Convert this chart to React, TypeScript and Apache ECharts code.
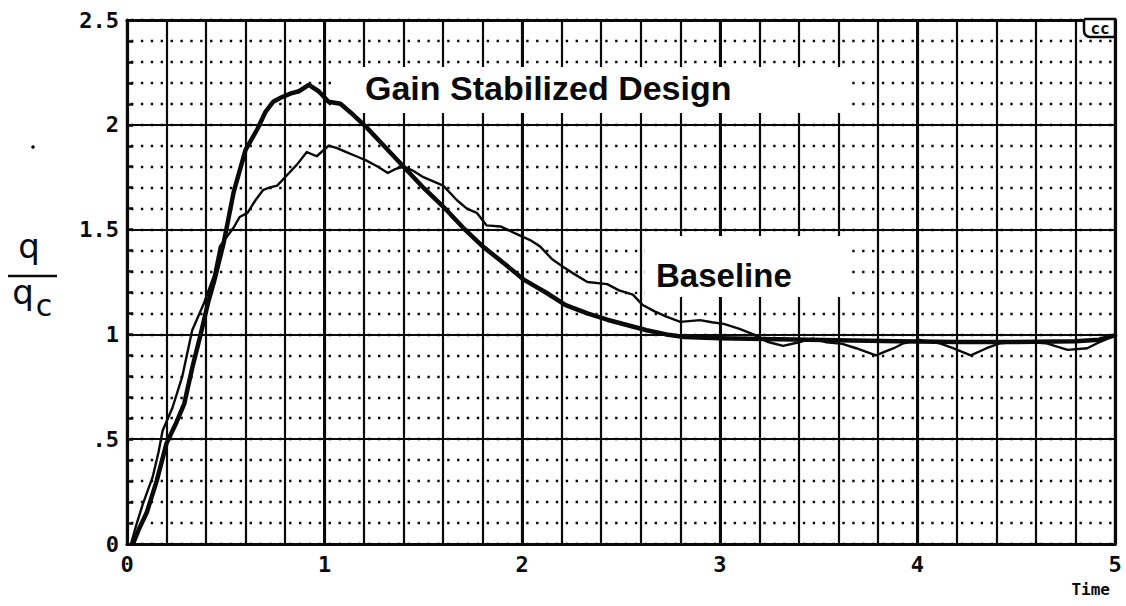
import React, { useEffect, useRef } from "react";
import * as echarts from "echarts";

const xTickValues = [0, 1, 2, 3, 4, 5];
const xTickLabels = ["0", "1", "2", "3", "4", "5"];
const yTickValues = [0, 0.5, 1, 1.5, 2, 2.5];
const yTickLabels = ["0", ".5", "1", "1.5", "2", "2.5"];

const gainStabilizedDesign: [number, number][] = [
  [0.03, 0.0], [0.06, 0.07], [0.1, 0.15], [0.15, 0.3], [0.2, 0.48], [0.25, 0.58],
  [0.29, 0.67], [0.33, 0.84], [0.37, 0.99], [0.41, 1.15], [0.44, 1.25], [0.49, 1.44],
  [0.54, 1.68], [0.6, 1.88], [0.66, 1.98], [0.7, 2.06], [0.74, 2.11], [0.78, 2.13], [0.83, 2.15],
  [0.87, 2.16], [0.92, 2.19], [0.97, 2.16], [1.02, 2.11], [1.08, 2.1], [1.13, 2.06],
  [1.21, 1.99], [1.3, 1.9], [1.4, 1.8], [1.5, 1.7], [1.6, 1.61], [1.7, 1.51],
  [1.8, 1.42], [1.92, 1.33], [2.01, 1.26], [2.12, 1.2], [2.22, 1.14], [2.33, 1.1],
  [2.43, 1.07], [2.53, 1.045], [2.63, 1.02], [2.73, 1.0], [2.82, 0.988], [3.0, 0.982],
  [3.3, 0.977], [3.6, 0.972], [3.9, 0.967], [4.2, 0.964], [4.5, 0.964], [4.8, 0.967],
  [4.92, 0.975], [5.0, 0.995],
];

const baseline: [number, number][] = [
  [0.02, 0.0], [0.05, 0.1], [0.08, 0.19], [0.13, 0.32], [0.16, 0.44], [0.18, 0.54],
  [0.23, 0.65], [0.28, 0.8], [0.33, 1.02], [0.39, 1.15], [0.44, 1.28], [0.47, 1.42],
  [0.54, 1.51], [0.57, 1.56], [0.61, 1.58], [0.65, 1.64], [0.69, 1.69], [0.72, 1.7],
  [0.76, 1.71], [0.82, 1.77], [0.86, 1.81], [0.91, 1.87], [0.96, 1.85], [1.02, 1.9],
  [1.06, 1.89], [1.11, 1.87], [1.16, 1.85], [1.21, 1.83], [1.27, 1.8], [1.32, 1.77],
  [1.36, 1.79], [1.4, 1.8], [1.45, 1.78], [1.5, 1.75], [1.55, 1.73], [1.6, 1.71],
  [1.67, 1.64], [1.72, 1.6], [1.77, 1.58], [1.82, 1.52], [1.89, 1.515], [1.97, 1.48],
  [2.04, 1.45], [2.09, 1.42], [2.15, 1.36], [2.21, 1.32], [2.26, 1.29], [2.33, 1.25],
  [2.43, 1.24], [2.49, 1.21], [2.56, 1.19], [2.61, 1.14], [2.67, 1.11], [2.73, 1.085],
  [2.8, 1.06], [2.9, 1.068], [2.96, 1.058], [3.02, 1.05], [3.1, 1.026], [3.17, 1.0],
  [3.24, 0.965], [3.32, 0.945], [3.39, 0.96], [3.47, 0.98], [3.54, 0.962], [3.62, 0.955],
  [3.69, 0.934], [3.79, 0.9], [3.88, 0.934], [3.93, 0.958], [4.01, 0.974], [4.11, 0.958],
  [4.18, 0.934], [4.27, 0.9], [4.35, 0.934], [4.42, 0.958], [4.52, 0.966], [4.65, 0.958],
  [4.76, 0.926], [4.86, 0.934], [4.91, 0.958], [4.99, 0.99],
];

function labelFor(values: number[], labels: string[], v: number): string {
  for (let i = 0; i < values.length; i++) {
    if (Math.abs(values[i] - v) < 1e-6) return labels[i];
  }
  return "";
}

export default function App() {
  const ref = useRef<HTMLDivElement>(null);

  useEffect(() => {
    document.body.style.margin = "0";
    const chart = echarts.init(ref.current!, null, { renderer: "svg" });
    const ink = "#0a0a0a";
    const tickFont = {
      fontFamily: "'DejaVu Sans Mono', monospace",
      fontWeight: "bold" as const,
      fontSize: 22,
      color: ink,
    };
    const labelFont = "bold 34px 'Liberation Sans', Arial, sans-serif";
    chart.setOption({
      animation: false,
      backgroundColor: "#fff",
      grid: { left: 127, top: 20, right: 11, bottom: 62, containLabel: false },
      xAxis: [
        {
          type: "value", min: 0, max: 5, interval: 0.2, position: "bottom",
          axisLine: { show: true, onZero: false, lineStyle: { color: ink, width: 3.2 } },
          axisTick: { show: false },
          axisLabel: { ...tickFont, margin: 9, formatter: (v: number) => labelFor(xTickValues, xTickLabels, v) },
          splitLine: { show: true, lineStyle: { color: ink, width: 2.2 } },
        },
        {
          type: "value", min: 0, max: 5, interval: 1, position: "top",
          axisLine: { show: true, onZero: false, lineStyle: { color: ink, width: 3.2 } },
          axisTick: { show: false },
          axisLabel: { show: false },
          splitLine: { show: true, lineStyle: { color: ink, width: 3 } },
        },
      ],
      yAxis: [
        {
          type: "value", min: 0, max: 2.5, interval: 0.1, position: "left",
          axisLine: { show: true, onZero: false, lineStyle: { color: ink, width: 3.2 } },
          axisTick: { show: true, inside: true, length: 6, lineStyle: { color: ink, width: 2.5 } },
          axisLabel: { ...tickFont, margin: 8, formatter: (v: number) => labelFor(yTickValues, yTickLabels, v) },
          splitLine: { show: true, lineStyle: { color: ink, width: 2.4, type: [2.4, 7.48], dashOffset: -4 } },
        },
        {
          type: "value", min: 0, max: 2.5, interval: 0.5, position: "right",
          axisLine: { show: true, onZero: false, lineStyle: { color: ink, width: 3.2 } },
          axisTick: { show: false },
          axisLabel: { show: false },
          splitLine: { show: true, lineStyle: { color: ink, width: 2.2 } },
        },
      ],
      series: [
        {
          type: "line", name: "Gain Stabilized Design", data: gainStabilizedDesign,
          xAxisIndex: 0, yAxisIndex: 0, showSymbol: false, symbol: "none", z: 3,
          lineStyle: { color: ink, width: 4.5, join: "round", cap: "round" },
        },
        {
          type: "line", name: "Baseline", data: baseline,
          xAxisIndex: 0, yAxisIndex: 0, showSymbol: false, symbol: "none", z: 3,
          lineStyle: { color: ink, width: 2.4, join: "round", cap: "round" },
        },
      ],
      graphic: [
        { type: "rect", z: 1, shape: { x: 337, y: 67, width: 508, height: 46 }, style: { fill: "#fff" } },
        {
          type: "text", z: 5, x: 365, y: 88,
          style: { text: "Gain Stabilized Design", font: labelFont, fill: ink, align: "left", verticalAlign: "middle" },
        },
        { type: "rect", z: 1, shape: { x: 645, y: 236, width: 203, height: 61 }, style: { fill: "#fff" } },
        {
          type: "text", z: 5, x: 656, y: 275,
          style: { text: "Baseline", font: "bold 33px 'Liberation Sans', Arial, sans-serif", fill: ink, align: "left", verticalAlign: "middle" },
        },
        {
          type: "rect", z: 5, shape: { x: 1084, y: 19, width: 31, height: 18, r: [0, 0, 0, 6] },
          style: { fill: "#fff", stroke: ink, lineWidth: 2.5 },
        },
        {
          type: "text", z: 6, x: 1100, y: 28,
          style: { text: "cc", font: "bold 16px 'DejaVu Sans Mono', monospace", fill: ink, align: "center", verticalAlign: "middle" },
        },
        {
          type: "text", z: 5, x: 29, y: 246,
          style: { text: "q", font: "500 34px 'DejaVu Sans', sans-serif", fill: ink, align: "center", verticalAlign: "middle" },
        },
        { type: "line", z: 5, shape: { x1: 8, y1: 276, x2: 57, y2: 276 }, style: { stroke: ink, lineWidth: 2.5 } },
        {
          type: "text", z: 5, x: 23, y: 292,
          style: { text: "q", font: "500 34px 'DejaVu Sans', sans-serif", fill: ink, align: "center", verticalAlign: "middle" },
        },
        {
          type: "text", z: 5, x: 44, y: 305,
          style: { text: "c", font: "30px 'DejaVu Sans', sans-serif", fill: ink, align: "center", verticalAlign: "middle" },
        },
        {
          type: "text", z: 5, x: 1110, y: 589,
          style: { text: "Time", font: "bold 16px 'DejaVu Sans Mono', monospace", fill: ink, align: "right", verticalAlign: "middle" },
        },
        { type: "circle", z: 5, shape: { cx: 33, cy: 147, r: 1.8 }, style: { fill: ink } },
      ],
    });
    return () => chart.dispose();
  }, []);

  return <div ref={ref} style={{ width: 1126, height: 606 }} />;
}
